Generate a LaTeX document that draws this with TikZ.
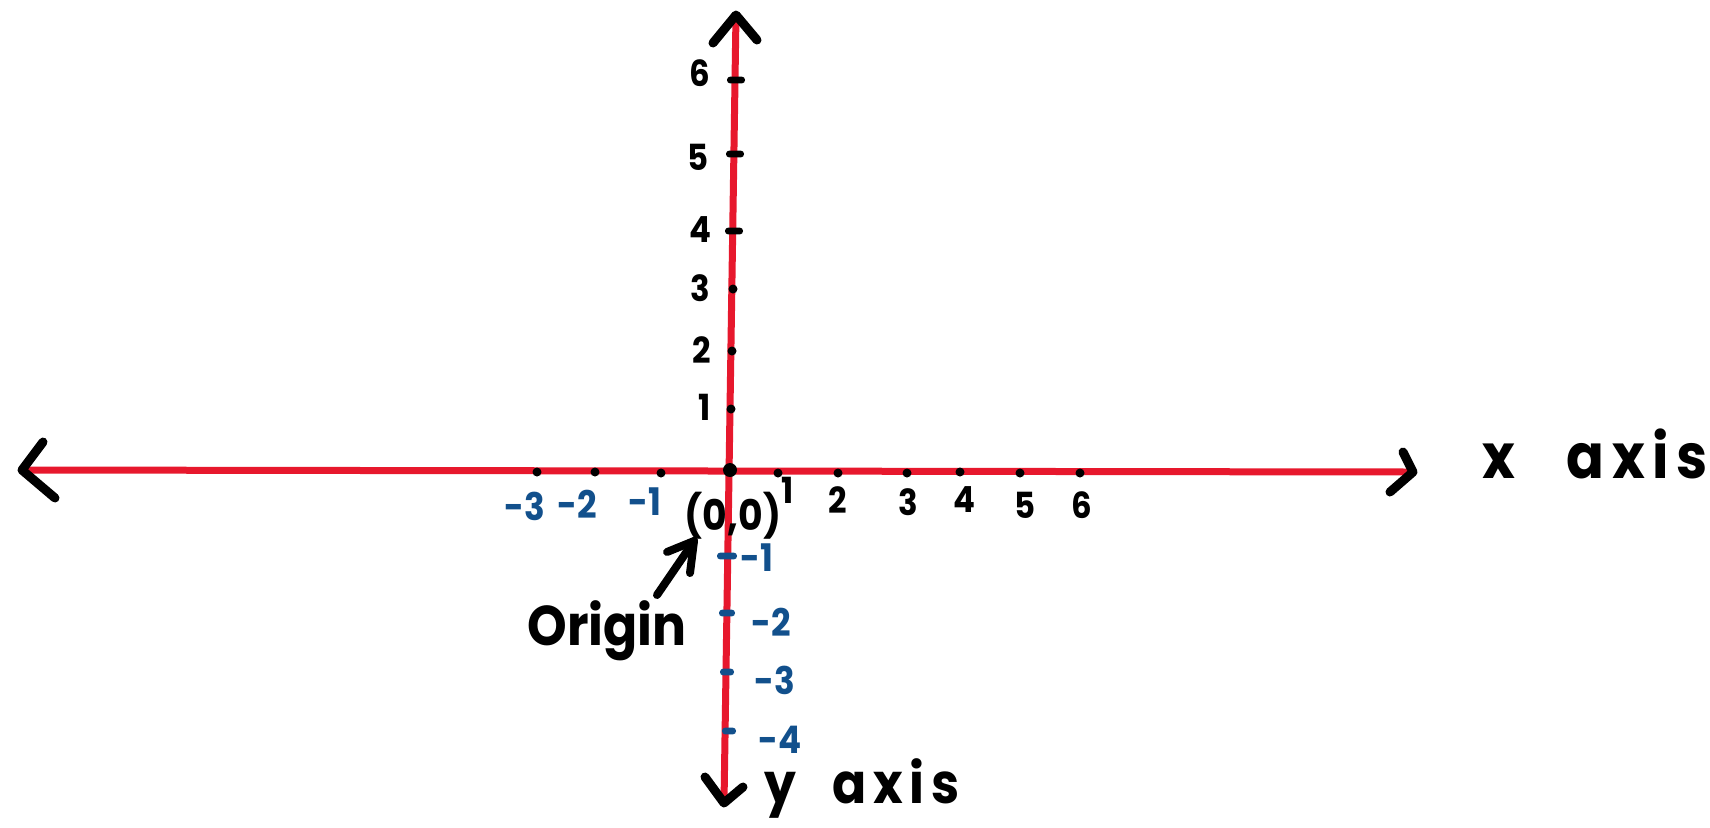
\documentclass[tikz,border=0pt]{standalone}
\usepackage{fontspec}
\newfontfamily\hand{Poppins}[FakeStretch=0.9]
\definecolor{axisred}{RGB}{231,24,45}
\definecolor{tickblue}{RGB}{18,80,140}
\begin{document}
\begin{tikzpicture}[x=0.5pt,y=-0.5pt,
  axisline/.style={draw=axisred, line width=3.5pt},
  headline/.style={draw=black, line width=4.5pt, line cap=round, line join=round},
  dotmark/.style={circle, fill=black, inner sep=0pt, minimum size=4.5pt},
  dashmark/.style={rectangle, rounded corners=1.6pt, fill=#1, inner sep=0pt, minimum width=9pt, minimum height=3.4pt},
  blacknum/.style={font=\hand\bfseries\fontsize{18}{20}\selectfont, text=black, inner sep=0pt},
  bluenum/.style={font=\hand\bfseries\fontsize{19}{21}\selectfont, text=tickblue, inner sep=0pt},
  biglabel/.style={font=\hand\bfseries\fontsize{#1}{#1}\selectfont, text=black, inner sep=0pt}
]
\useasboundingbox (0,0) rectangle (1710,827);
% axis end points
\coordinate (xl) at (22,470);
\coordinate (xr) at (1413,472);
\coordinate (yt) at (736,15);
\coordinate (yb) at (724,803);
% red axes
\draw[axisline] (xl) -- (xr);
\draw[axisline] (yt) -- (yb);
% arrow heads
\coordinate (xlu) at (43,442); \coordinate (xld) at (55,498);
\coordinate (xru) at (1403,452); \coordinate (xrd) at (1390,492);
\coordinate (ytl) at (713,43); \coordinate (ytr) at (757,40);
\coordinate (ybl) at (705,777); \coordinate (ybr) at (743,787);
\draw[headline] (xlu) -- (xl) -- (xld);
\draw[headline] (xru) -- (xr) -- (xrd);
\draw[headline] (ytl) -- (yt) -- (ytr);
\draw[headline] (ybl) -- (yb) -- (ybr);
% origin
\node[dotmark, minimum size=7pt] (o) at (730,470) {};
% x ticks
\node[dotmark] (xm3) at (537,472) {};
\node[dotmark] (xm2) at (595,472) {};
\node[dotmark] (xm1) at (661,473) {};
\node[dotmark] (xp1) at (778,473) {};
\node[dotmark] (xp2) at (838,473) {};
\node[dotmark] (xp3) at (907,473) {};
\node[dotmark] (xp4) at (960,472) {};
\node[dotmark] (xp5) at (1020,473) {};
\node[dotmark] (xp6) at (1080,473) {};
% x labels
\node[bluenum] (lxm3) at (525,506) {-3};
\node[bluenum] (lxm2) at (577,504) {-2};
\node[bluenum] (lxm1) at (645,502) {-1};
\node[blacknum] (lxp1) at (788,490) {1};
\node[blacknum] (lxp2) at (838,500) {2};
\node[blacknum] (lxp3) at (908,502) {3};
\node[blacknum] (lxp4) at (964,500) {4};
\node[blacknum] (lxp5) at (1025,505) {5};
\node[blacknum] (lxp6) at (1082,505) {6};
% y positive ticks
\node[dashmark=black] (yp6) at (736,80) {};
\node[dashmark=black] (yp5) at (735,154) {};
\node[dashmark=black] (yp4) at (734,231) {};
\node[dotmark] (yp3) at (733,289) {};
\node[dotmark] (yp2) at (732,351) {};
\node[dotmark] (yp1) at (731,409) {};
\node[blacknum] (lyp6) at (700,73) {6};
\node[blacknum] (lyp5) at (698,157) {5};
\node[blacknum] (lyp4) at (700,230) {4};
\node[blacknum] (lyp3) at (700,288) {3};
\node[blacknum] (lyp2) at (702,350) {2};
\node[blacknum] (lyp1) at (705,407) {1};
% y negative ticks
\node[dashmark=tickblue, minimum width=10pt] (ym1) at (727,556) {};
\node[dashmark=tickblue, minimum width=8pt] (ym2) at (727,613) {};
\node[dashmark=tickblue, minimum width=7pt] (ym3) at (727,672) {};
\node[dashmark=tickblue, minimum width=7pt] (ym4) at (729,731) {};
\node[bluenum] (lym1) at (757,558) {-1};
\node[bluenum] (lym2) at (771,622) {-2};
\node[bluenum] (lym3) at (775,680) {-3};
\node[bluenum] (lym4) at (780,740) {-4};
% origin label and arrow
\node[biglabel=21] (oo) at (733,516) {(0,0)};
\node[biglabel=28, anchor=base] (org) at (607,645) {Origin};
\coordinate (atail) at (657,595);
\coordinate (atip) at (694,541);
\coordinate (awl) at (667,552);
\coordinate (awd) at (690,573);
\draw[headline, line width=4pt] (atail) -- (atip);
\draw[headline, line width=4pt] (awl) -- (atip) -- (awd);
% axis names
\node[biglabel=31, anchor=base east] (xname) at (1708,478) {\addfontfeature{LetterSpace=12}x\hspace{26pt}axis};
\node[biglabel=28, anchor=base east] (yname) at (960,803) {\addfontfeature{LetterSpace=12}y\hspace{18pt}axis};
\end{tikzpicture}
\end{document}
